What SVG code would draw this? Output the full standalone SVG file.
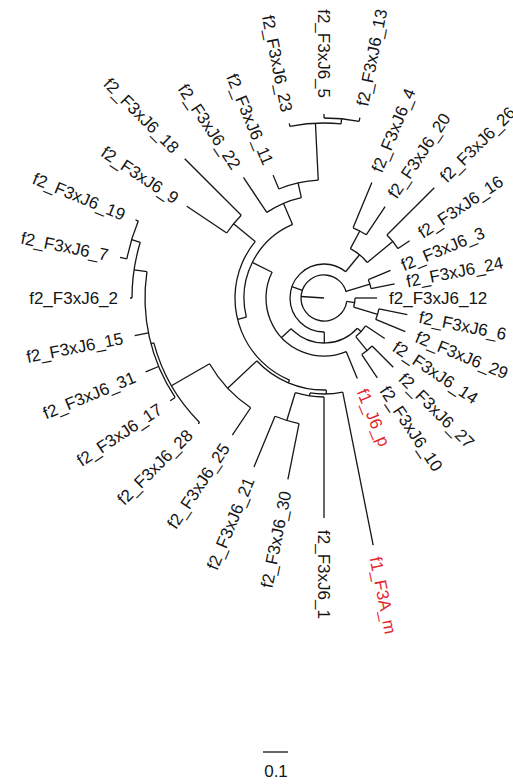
<svg xmlns="http://www.w3.org/2000/svg" width="513" height="784" viewBox="0 0 513 784">
<style>
.br line, .br circle {stroke:#151515; stroke-width:1.3; fill:none}
text {font-family:"Liberation Sans", Arial, sans-serif; font-size:17px; fill:#151515}
.red {fill:#e3262b}
.fl {text-anchor:end}
</style>
<rect width="513" height="784" fill="#ffffff"/>
<g id="branches" class="br" transform="translate(324 298)">
<circle r="23" stroke-dasharray="134.36 2000" transform="rotate(-351.6)"/>
<circle r="48" stroke-dasharray="9.43 2000" transform="rotate(-22.5)"/>
<circle r="31" stroke-dasharray="9.14 2000"/>
<circle r="56" stroke-dasharray="11 2000" transform="rotate(-348.75)"/>
<circle r="34" stroke-dasharray="130.43 2000" transform="rotate(-270.4)"/>
<circle r="56" stroke-dasharray="21.99 2000" transform="rotate(-61.9)"/>
<circle r="76" stroke-dasharray="14.92 2000" transform="rotate(-67.5)"/>
<circle r="89" stroke-dasharray="17.48 2000" transform="rotate(-45)"/>
<circle r="45" stroke-dasharray="74.45 2000" transform="rotate(-317.8)"/>
<circle r="58" stroke-dasharray="140.61 2000" transform="rotate(-292.5)"/>
<circle r="50" stroke-dasharray="14.7 2000" transform="rotate(-326.25)"/>
<circle r="68" stroke-dasharray="13.35 2000" transform="rotate(-315)"/>
<circle r="80" stroke-dasharray="112.68 2000" transform="rotate(-193.9)"/>
<circle r="103" stroke-dasharray="37.84 2000" transform="rotate(-123.75)"/>
<circle r="118" stroke-dasharray="40.57 2000" transform="rotate(-112.5)"/>
<circle r="175" stroke-dasharray="51.46 2000" transform="rotate(-101.25)"/>
<circle r="180" stroke-dasharray="35.34 2000" transform="rotate(-90)"/>
<circle r="89" stroke-dasharray="165.58 2000" transform="rotate(-247.2)"/>
<circle r="117" stroke-dasharray="22.97 2000" transform="rotate(-146.25)"/>
<circle r="92" stroke-dasharray="77.56 2000" transform="rotate(-271.4)"/>
<circle r="132" stroke-dasharray="60.7 2000" transform="rotate(-236.25)"/>
<circle r="176" stroke-dasharray="92.77 2000" transform="rotate(-225)"/>
<circle r="179" stroke-dasharray="131.81 2000" transform="rotate(-213.75)"/>
<circle r="192" stroke-dasharray="56.55 2000" transform="rotate(-180)"/>
<circle r="201" stroke-dasharray="39.47 2000" transform="rotate(-168.75)"/>
<circle r="96" stroke-dasharray="32.92 2000" transform="rotate(-281.25)"/>
<circle r="99" stroke-dasharray="29.2 2000" transform="rotate(-270)"/>
<circle r="128" stroke-dasharray="25.13 2000" transform="rotate(-258.75)"/>
<line x1="0" x2="23" transform="rotate(-176.3)"/>
<line x1="23" x2="48" transform="rotate(-16.9)"/>
<line x1="23" x2="34" transform="rotate(-160.5)"/>
<line x1="23" x2="31" transform="rotate(-351.6)"/>
<line x1="48" x2="72" transform="rotate(-11.25)"/>
<line x1="48" x2="72" transform="rotate(-22.5)"/>
<line x1="31" x2="53"/>
<line x1="31" x2="56" transform="rotate(-343.1)"/>
<line x1="56" x2="88" transform="rotate(-337.5)"/>
<line x1="56" x2="85" transform="rotate(-348.75)"/>
<line x1="34" x2="56" transform="rotate(-50.6)"/>
<line x1="34" x2="45" transform="rotate(-270.4)"/>
<line x1="56" x2="76" transform="rotate(-61.9)"/>
<line x1="56" x2="89" transform="rotate(-39.4)"/>
<line x1="76" x2="110" transform="rotate(-56.25)"/>
<line x1="76" x2="125" transform="rotate(-67.5)"/>
<line x1="89" x2="103" transform="rotate(-33.75)"/>
<line x1="89" x2="156" transform="rotate(-45)"/>
<line x1="45" x2="58" transform="rotate(-223)"/>
<line x1="45" x2="50" transform="rotate(-317.8)"/>
<line x1="58" x2="80" transform="rotate(-153.6)"/>
<line x1="58" x2="87" transform="rotate(-292.5)"/>
<line x1="50" x2="73" transform="rotate(-326.25)"/>
<line x1="50" x2="68" transform="rotate(-309.4)"/>
<line x1="68" x2="96" transform="rotate(-303.75)"/>
<line x1="68" x2="98" transform="rotate(-315)"/>
<line x1="80" x2="103" transform="rotate(-113.2)"/>
<line x1="80" x2="89" transform="rotate(-193.9)"/>
<line x1="103" x2="145" transform="rotate(-123.75)"/>
<line x1="103" x2="118" transform="rotate(-102.7)"/>
<line x1="118" x2="133" transform="rotate(-112.5)"/>
<line x1="118" x2="175" transform="rotate(-92.8)"/>
<line x1="175" x2="178" transform="rotate(-101.25)"/>
<line x1="175" x2="180" transform="rotate(-84.4)"/>
<line x1="180" x2="184" transform="rotate(-90)"/>
<line x1="180" x2="184" transform="rotate(-78.75)"/>
<line x1="89" x2="117" transform="rotate(-140.6)"/>
<line x1="89" x2="92" transform="rotate(-247.2)"/>
<line x1="117" x2="197" transform="rotate(-135)"/>
<line x1="117" x2="165" transform="rotate(-146.25)"/>
<line x1="92" x2="132" transform="rotate(-223.1)"/>
<line x1="92" x2="96" transform="rotate(-271.4)"/>
<line x1="132" x2="176" transform="rotate(-209.9)"/>
<line x1="132" x2="165" transform="rotate(-236.25)"/>
<line x1="176" x2="179" transform="rotate(-194.8)"/>
<line x1="176" x2="178" transform="rotate(-225)"/>
<line x1="179" x2="192" transform="rotate(-171.56)"/>
<line x1="179" x2="193" transform="rotate(-191.25)"/>
<line x1="179" x2="193" transform="rotate(-202.5)"/>
<line x1="179" x2="185" transform="rotate(-213.75)"/>
<line x1="192" x2="201" transform="rotate(-163.125)"/>
<line x1="192" x2="194" transform="rotate(-180)"/>
<line x1="201" x2="204" transform="rotate(-157.5)"/>
<line x1="201" x2="208" transform="rotate(-168.75)"/>
<line x1="96" x2="99" transform="rotate(-261.6)"/>
<line x1="96" x2="252" transform="rotate(-281.25)"/>
<line x1="99" x2="128" transform="rotate(-253.1)"/>
<line x1="99" x2="220" transform="rotate(-270)"/>
<line x1="128" x2="183" transform="rotate(-247.5)"/>
<line x1="128" x2="185" transform="rotate(-258.75)"/>
</g>
<g id="labels" transform="translate(324 298)">
<g id="tip-24"><text transform="rotate(-11.25) translate(84 0)" dy="0.35em">f2_F3xJ6_24</text></g>
<g id="tip-3"><text transform="rotate(-22.5) translate(84 0)" dy="0.35em">f2_F3xJ6_3</text></g>
<g id="tip-16"><text transform="rotate(-33.75) translate(115 0)" dy="0.35em">f2_F3xJ6_16</text></g>
<g id="tip-26"><text transform="rotate(-45) translate(168 0)" dy="0.35em">f2_F3xJ6_26</text></g>
<g id="tip-20"><text transform="rotate(-56.25) translate(122 0)" dy="0.35em">f2_F3xJ6_20</text></g>
<g id="tip-4"><text transform="rotate(-67.5) translate(137 0)" dy="0.35em">f2_F3xJ6_4</text></g>
<g id="tip-13"><text transform="rotate(-78.75) translate(196 0)" dy="0.35em">f2_F3xJ6_13</text></g>
<g id="tip-5"><text class="fl" transform="rotate(-90) translate(200 0) rotate(180)" dy="0.35em">f2_F3xJ6_5</text></g>
<g id="tip-23"><text class="fl" transform="rotate(-101.25) translate(190 0) rotate(180)" dy="0.35em">f2_F3xJ6_23</text></g>
<g id="tip-11"><text class="fl" transform="rotate(-112.5) translate(145 0) rotate(180)" dy="0.35em">f2_F3xJ6_11</text></g>
<g id="tip-22"><text class="fl" transform="rotate(-123.75) translate(157 0) rotate(180)" dy="0.35em">f2_F3xJ6_22</text></g>
<g id="tip-18"><text class="fl" transform="rotate(-135) translate(209 0) rotate(180)" dy="0.35em">f2_F3xJ6_18</text></g>
<g id="tip-9"><text class="fl" transform="rotate(-146.25) translate(177 0) rotate(180)" dy="0.35em">f2_F3xJ6_9</text></g>
<g id="tip-19"><text class="fl" transform="rotate(-157.5) translate(216 0) rotate(180)" dy="0.35em">f2_F3xJ6_19</text></g>
<g id="tip-7"><text class="fl" transform="rotate(-168.75) translate(220 0) rotate(180)" dy="0.35em">f2_F3xJ6_7</text></g>
<g id="tip-2"><text class="fl" transform="rotate(-180) translate(206 0) rotate(180)" dy="0.35em">f2_F3xJ6_2</text></g>
<g id="tip-15"><text class="fl" transform="rotate(-191.25) translate(205 0) rotate(180)" dy="0.35em">f2_F3xJ6_15</text></g>
<g id="tip-31"><text class="fl" transform="rotate(-202.5) translate(205 0) rotate(180)" dy="0.35em">f2_F3xJ6_31</text></g>
<g id="tip-17"><text class="fl" transform="rotate(-213.75) translate(197 0) rotate(180)" dy="0.35em">f2_F3xJ6_17</text></g>
<g id="tip-28"><text class="fl" transform="rotate(-225) translate(190 0) rotate(180)" dy="0.35em">f2_F3xJ6_28</text></g>
<g id="tip-25"><text class="fl" transform="rotate(-236.25) translate(177 0) rotate(180)" dy="0.35em">f2_F3xJ6_25</text></g>
<g id="tip-21"><text class="fl" transform="rotate(-247.5) translate(195 0) rotate(180)" dy="0.35em">f2_F3xJ6_21</text></g>
<g id="tip-30"><text class="fl" transform="rotate(-258.75) translate(197 0) rotate(180)" dy="0.35em">f2_F3xJ6_30</text></g>
<g id="tip-1"><text transform="rotate(-270) translate(232 0)" dy="0.35em">f2_F3xJ6_1</text></g>
<g id="tip-F3A_m"><text class="red" transform="rotate(-281.25) translate(264 0)" dy="0.35em">f1_F3A_m</text></g>
<g id="tip-J6_p"><text class="red" transform="rotate(-292.5) translate(99 0)" dy="0.35em">f1_J6_p</text></g>
<g id="tip-10"><text transform="rotate(-303.75) translate(108 0)" dy="0.35em">f2_F3xJ6_10</text></g>
<g id="tip-27"><text transform="rotate(-315) translate(110 0)" dy="0.35em">f2_F3xJ6_27</text></g>
<g id="tip-14"><text transform="rotate(-326.25) translate(85 0)" dy="0.35em">f2_F3xJ6_14</text></g>
<g id="tip-29"><text transform="rotate(-337.5) translate(100 0)" dy="0.35em">f2_F3xJ6_29</text></g>
<g id="tip-6"><text transform="rotate(-348.75) translate(97 0)" dy="0.35em">f2_F3xJ6_6</text></g>
<g id="tip-12"><text transform="translate(65 0)" dy="0.35em">f2_F3xJ6_12</text></g>
</g>
<g id="scale-bar">
<line x1="263" y1="752" x2="288" y2="752" stroke="#151515" stroke-width="1.3"/>
<text x="276" y="777" text-anchor="middle">0.1</text>
</g>
</svg>
